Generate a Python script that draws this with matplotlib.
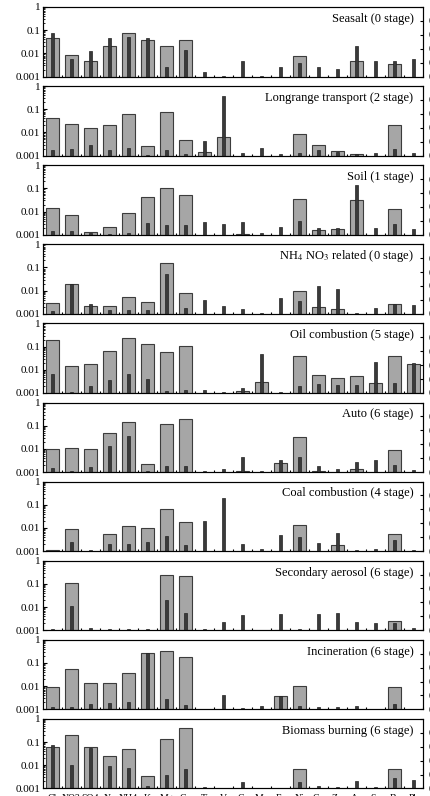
import numpy as np
import matplotlib
matplotlib.use("Agg")
import matplotlib.pyplot as plt

plt.rcParams['font.family'] = ['Liberation Serif', 'DejaVu Serif']
plt.rcParams['mathtext.fontset'] = 'stix'

# element / species labels (cut off at the bottom of the original)
species = ["Cl", "NO3", "SO4", "Na", "NH4", "K", "Mg", "Ca", "Ti", "V",
           "Cr", "Mn", "Fe", "Ni", "Cu", "Zn", "As", "Se", "Br", "Pb"]

titles = ["Seasalt (0 stage)", "Longrange transport (2 stage)", "Soil (1 stage)",
          "NH$_4$ NO$_3$ related (0 stage)", "Oil combustion (5 stage)",
          "Auto (6 stage)", "Coal combustion (4 stage)",
          "Secondary aerosol (6 stage)", "Incineration (6 stage)",
          "Biomass burning (6 stage)"]

N = np.nan
# wide grey bars
seasalt_grey = [0.044, 0.0087, 0.0048, 0.020, 0.074, 0.037, 0.020, 0.036, N, N,
                N, N, N, 0.0079, N, N, 0.0045, N, 0.0033, N]
longrange_grey = [0.042, 0.024, 0.016, 0.021, 0.060, 0.0025, 0.079, 0.0049, 0.0015, 0.0062,
                  N, N, N, 0.0084, 0.0029, 0.0016, 0.0012, N, 0.021, N]
soil_grey = [0.0146, 0.0069, 0.0013, 0.0022, 0.0084, 0.042, 0.10, 0.050, N, N,
             0.0011, N, N, 0.034, 0.0016, 0.0017, 0.030, N, 0.0126, N]
nh4no3_grey = [0.0030, 0.020, 0.0022, 0.0021, 0.0052, 0.0033, 0.156, 0.0079, N, N,
               N, N, N, 0.010, 0.0020, 0.0016, N, N, 0.0027, N]
oil_grey = [0.19, 0.014, 0.0185, 0.066, 0.23, 0.123, 0.058, 0.103, N, N,
            0.0012, 0.0030, N, 0.038, 0.0062, 0.0042, 0.0052, 0.0028, 0.041, 0.0174]
auto_grey = [0.0103, 0.011, 0.010, 0.050, 0.14, 0.0023, 0.12, 0.19, N, N,
             0.0011, N, 0.0024, 0.032, 0.0011, N, 0.0013, N, 0.0091, N]
coal_grey = [0.0011, 0.0087, N, 0.0056, 0.012, 0.0097, 0.064, 0.0185, N, N,
             N, N, N, 0.0136, N, 0.0019, N, N, 0.0054, N]
secondary_grey = [N, 0.11, N, N, N, N, 0.235, 0.22, N, N,
                  N, N, 0.00105, N, N, N, N, N, 0.0026, N]
incin_grey = [0.0091, 0.056, 0.014, 0.014, 0.038, 0.28, 0.33, 0.18, N, N,
              N, N, 0.0038, 0.010, N, N, N, N, 0.0091, N]
biomass_grey = [0.063, 0.195, 0.061, 0.0246, 0.048, 0.0033, 0.135, 0.39, N, N,
                N, N, N, 0.0067, N, N, N, N, 0.0067, N]

# narrow dark bars
seasalt_dark = [0.072, 0.0055, 0.012, 0.047, 0.051, 0.044, 0.0025, 0.0135, 0.0015, 0.0011,
                0.0045, 0.0011, 0.0027, 0.0037, 0.0026, 0.0022, 0.020, 0.0045, 0.0047, 0.0059]
longrange_dark = [0.0018, 0.0019, 0.0029, 0.0018, 0.0022, 0.00105, 0.0018, 0.0012, 0.0041, 0.38,
                  0.0013, 0.0022, 0.0012, 0.0013, 0.0018, 0.0014, 0.0012, 0.0013, 0.0019, 0.0013]
soil_dark = [0.0014, 0.0014, 0.0012, 0.0011, 0.0012, 0.0033, 0.0025, 0.0027, 0.0036, 0.0029,
             0.0036, 0.0012, 0.0022, 0.0038, 0.0019, 0.0020, 0.14, 0.0020, 0.0029, 0.0018]
nh4no3_dark = [0.0013, 0.019, 0.0026, 0.0015, 0.0015, 0.0014, 0.054, 0.0017, 0.0041, 0.0021,
               0.0016, 0.0011, 0.0050, 0.0035, 0.016, 0.0115, 0.0011, 0.0018, 0.0027, 0.0025]
oil_dark = [0.0064, 0.0011, 0.0020, 0.0035, 0.0066, 0.0038, 0.0012, 0.0013, 0.0014, 0.0011,
            0.0016, 0.047, 0.0011, 0.0020, 0.0025, 0.0021, 0.0021, 0.022, 0.0028, 0.019]
auto_dark = [0.0015, 0.0011, 0.0016, 0.0127, 0.036, 0.0011, 0.0018, 0.0018, 0.0011, 0.0013,
             0.0046, 0.0011, 0.0033, 0.0046, 0.0018, 0.0013, 0.0026, 0.0034, 0.0021, 0.0012]
coal_dark = [0.00105, 0.0025, 0.0011, 0.0021, 0.0021, 0.0024, 0.0044, 0.0019, 0.020, 0.20,
             0.0020, 0.0012, 0.0050, 0.0041, 0.0023, 0.0062, 0.0011, 0.0012, 0.0029, 0.0011]
secondary_dark = [0.0011, 0.011, 0.0012, 0.0011, 0.0011, 0.0011, 0.020, 0.0056, 0.0011, 0.0022,
                  0.0044, 0.00105, 0.0051, 0.0011, 0.0051, 0.0054, 0.0023, 0.0020, 0.0020, 0.0012]
incin_dark = [0.0012, 0.0012, 0.0017, 0.0018, 0.0021, 0.28, 0.0027, 0.0015, 0.00105, 0.0041,
              0.0011, 0.0014, 0.0038, 0.0014, 0.0012, 0.0013, 0.0014, 0.00105, 0.0017, 0.00105]
biomass_dark = [0.074, 0.0103, 0.055, 0.0097, 0.0079, 0.0013, 0.0037, 0.0072, 0.0011, 0.00105,
                0.0018, 0.00105, 0.00105, 0.0018, 0.0013, 0.0012, 0.0021, 0.0012, 0.0028, 0.0023]

grey_sets = [seasalt_grey, longrange_grey, soil_grey, nh4no3_grey, oil_grey,
             auto_grey, coal_grey, secondary_grey, incin_grey, biomass_grey]
dark_sets = [seasalt_dark, longrange_dark, soil_dark, nh4no3_dark, oil_dark,
             auto_dark, coal_dark, secondary_dark, incin_dark, biomass_dark]

W, H = 431, 796
fig = plt.figure(figsize=(W / 100, H / 100), dpi=100)

base = 0.001
x = np.arange(len(species))
left, right = 43, 423
top0, pitch, ph = 7, 79.1, 69.5

for k in range(10):
    top = top0 + k * pitch
    ax = fig.add_axes([left / W, 1 - (top + ph) / H, (right - left) / W, ph / H])
    g = np.array(grey_sets[k], dtype=float)
    d = np.array(dark_sets[k], dtype=float)
    ax.bar(x, g - base, bottom=base, width=0.68, color='#a6a6a6',
           edgecolor='#3c3c3c', linewidth=0.8, zorder=2)
    ax.bar(x, d - base, bottom=base, width=0.2, color='#3a3a3a',
           edgecolor='#222222', linewidth=0.5, zorder=3)
    ax.set_yscale('log')
    ax.set_ylim(0.001, 1)
    ax.set_xlim(-0.5, len(species) - 0.5)
    ax.set_yticks([0.001, 0.01, 0.1, 1])
    ax.set_yticklabels(['0.001', '0.01', '0.1', '1'])
    ax.tick_params(axis='y', which='major', direction='in', length=3, labelsize=8, pad=2)
    ax.tick_params(axis='y', which='minor', direction='in', length=1.5)
    ax.set_xticks(x)
    ax.set_xticks(x + 0.5, minor=True)
    ax.tick_params(axis='x', which='major', direction='out', length=0, labelsize=7, pad=4)
    ax.tick_params(axis='x', which='minor', direction='in', length=1.5, width=0.8)
    if k == 9:
        ax.set_xticklabels(species)
    else:
        ax.set_xticklabels([])
    for s in ax.spines.values():
        s.set_linewidth(0.8)
        s.set_color('#333333')
    ax.text(0.975, 0.83, titles[k], transform=ax.transAxes, ha='right', va='center',
            fontsize=9)

    # right-hand linear axis, labels run off the edge of the picture
    ax2 = ax.twinx()
    ax2.set_ylim(0, 1)
    ax2.set_yticks([0, 0.2, 0.4, 0.6, 0.8, 1.0])
    ax2.set_yticklabels(['0', '0.2', '0.4', '0.6', '0.8', '1'])
    ax2.tick_params(axis='y', direction='in', length=2, labelsize=8, pad=4)

fig.savefig('out.png', dpi=100)
